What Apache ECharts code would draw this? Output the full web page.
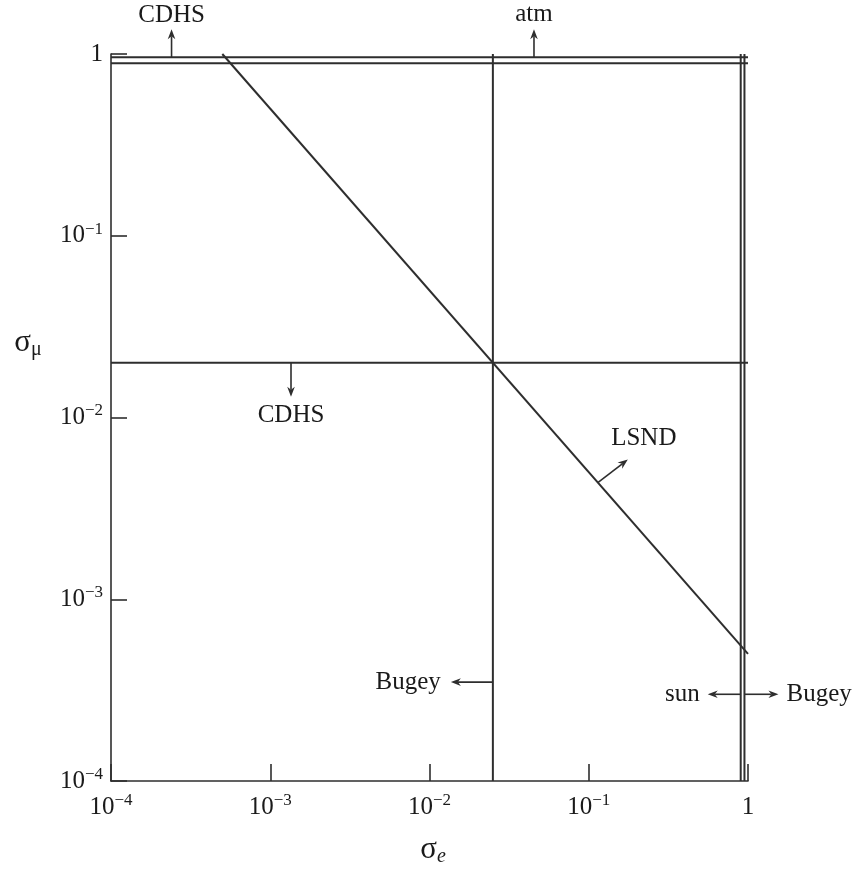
<!DOCTYPE html>
<html>
<head>
<meta charset="utf-8">
<script src="https://cdn.jsdelivr.net/npm/echarts@6/dist/echarts.min.js"></script>
<style>
  html, body { margin: 0; padding: 0; background: #fff; }
  #chart { width: 857px; height: 872px; }
</style>
</head>
<body>
<div id="chart"></div>
<script>
// Axis range (log10 decades) for sigma_e and sigma_mu
const xRange = [1e-4, 1];
const yRange = [1e-4, 1];

// Upper bounds on sigma_mu near unity (CDHS and atmospheric)
const upperMuBounds = [0.96, 0.89];
// CDHS bound on sigma_mu
const cdhsMu = 0.02;
// Bugey bound on sigma_e
const bugeyE = 0.025;
// Solar / Bugey bounds on sigma_e near unity
const nearOneE = [0.90, 0.95];
// LSND line: sigma_e * sigma_mu = const
const lsndE = [5e-4, 1];
const lsndMu = [1, 5e-4];

// Annotation anchors (data coordinates on the bound lines)
const noteCdhsTop = [2.4e-4, 0.96];
const noteAtm = [0.0453, 0.96];
const noteCdhsLow = [1.35e-3, 0.02];
const noteBugeyLeft = [0.025, 3.5e-4];
const noteSun = [0.90, 3.0e-4];
const noteBugeyRight = [0.95, 3.0e-4];
const noteLsndE = 0.114;

const INK = '#2e2e2e';
const TEXT = '#1a1a1a';
const SERIF = '"Liberation Serif", "DejaVu Serif", serif';

function seg(a, b) {
  return {
    type: 'line',
    data: [a, b],
    symbol: 'none',
    silent: true,
    clip: false,
    lineStyle: { color: INK, width: 2 },
  };
}

const series = [];
upperMuBounds.forEach(v => series.push(seg([xRange[0], v], [xRange[1], v])));
series.push(seg([xRange[0], cdhsMu], [xRange[1], cdhsMu]));
series.push(seg([bugeyE, yRange[0]], [bugeyE, yRange[1]]));
nearOneE.forEach(v => series.push(seg([v, yRange[0]], [v, yRange[1]])));
series.push(seg([lsndE[0], lsndMu[0]], [lsndE[1], lsndMu[1]]));

function powLabel(v) {
  const e = Math.round(Math.log10(v));
  if (e === 0) return '{b|1}';
  return '{b|10}{s|\u2212' + (-e) + '}';
}

const labelRich = {
  b: { fontSize: 25, fontFamily: SERIF, color: TEXT, lineHeight: 30 },
  s: { fontSize: 17, fontFamily: SERIF, color: TEXT, lineHeight: 8, verticalAlign: 'top' },
};

const chart = echarts.init(document.getElementById('chart'), null, { renderer: 'canvas' });

chart.setOption({
  animation: false,
  backgroundColor: '#fff',
  grid: { left: 111, right: 109, top: 54, bottom: 91, containLabel: false },
  xAxis: {
    type: 'log',
    logBase: 10,
    min: xRange[0],
    max: xRange[1],
    interval: 1,
    axisLine: { show: true, lineStyle: { color: INK, width: 1.6 } },
    axisTick: { show: true, inside: true, length: 17, lineStyle: { color: INK, width: 1.6 } },
    splitLine: { show: false },
    axisLabel: { margin: 11, formatter: powLabel, rich: labelRich },
  },
  yAxis: {
    type: 'log',
    logBase: 10,
    min: yRange[0],
    max: yRange[1],
    interval: 1,
    axisLine: { show: true, lineStyle: { color: INK, width: 1.6 } },
    axisTick: { show: true, inside: true, length: 16, lineStyle: { color: INK, width: 1.6 } },
    splitLine: { show: false },
    axisLabel: { margin: 8, formatter: powLabel, rich: labelRich },
  },
  series: series,
});

function px(p) { return chart.convertToPixel({ gridIndex: 0 }, p); }

// Line plus barbed arrow head from (x1,y1) to the tip (x2,y2)
function arrow(x1, y1, x2, y2) {
  const a = Math.atan2(y2 - y1, x2 - x1);
  const c = Math.cos(a), s = Math.sin(a);
  const L = 10, W = 3.8;
  const bx = x2 - L * c, by = y2 - L * s;
  const nx = x2 - 0.7 * L * c, ny = y2 - 0.7 * L * s;
  return [
    { type: 'line', silent: true, shape: { x1: x1, y1: y1, x2: nx, y2: ny },
      style: { stroke: INK, lineWidth: 1.6 } },
    { type: 'polygon', silent: true,
      shape: { points: [[x2, y2], [bx - W * s, by + W * c], [nx, ny], [bx + W * s, by - W * c]] },
      style: { fill: INK } },
  ];
}

function label(text, x, y, align) {
  return { type: 'text', silent: true, x: x, y: y,
    style: { text: text, fill: TEXT, font: '25px ' + SERIF, align: align || 'center', verticalAlign: 'middle' } };
}

const g = [];
let p;
p = px(noteCdhsTop);
g.push(...arrow(p[0], p[1], p[0], p[1] - 28), label('CDHS', p[0], p[1] - 42));
p = px(noteAtm);
g.push(...arrow(p[0], p[1], p[0], p[1] - 28), label('atm', p[0], p[1] - 43));
p = px(noteCdhsLow);
g.push(...arrow(p[0], p[1], p[0], p[1] + 34), label('CDHS', p[0], p[1] + 53));
p = px(noteBugeyLeft);
g.push(...arrow(p[0], p[1], p[0] - 42, p[1]), label('Bugey', p[0] - 52, p[1], 'right'));
p = px(noteSun);
g.push(...arrow(p[0], p[1], p[0] - 33, p[1]), label('sun', p[0] - 41, p[1], 'right'));
p = px(noteBugeyRight);
g.push(...arrow(p[0], p[1], p[0] + 34, p[1]), label('Bugey', p[0] + 42, p[1], 'left'));
p = px([noteLsndE, lsndE[0] * lsndMu[0] / noteLsndE]);
g.push(...arrow(p[0], p[1], p[0] + 30, p[1] - 23), label('LSND', p[0] + 46, p[1] - 44));

// Axis titles
g.push({ type: 'text', silent: true, x: 28, y: 343,
  style: { text: '{a|\u03c3}{m|\u03bc}', align: 'center', verticalAlign: 'middle',
    rich: { a: { fontSize: 31, fontFamily: SERIF, fill: TEXT, lineHeight: 34 },
            m: { fontSize: 20, fontFamily: SERIF, fill: TEXT, lineHeight: 18, verticalAlign: 'bottom' } } } });
g.push({ type: 'text', silent: true, x: 433, y: 850,
  style: { text: '{a|\u03c3}{m|e}', align: 'center', verticalAlign: 'middle',
    rich: { a: { fontSize: 31, fontFamily: SERIF, fill: TEXT, lineHeight: 34 },
            m: { fontSize: 20, fontFamily: SERIF, fontStyle: 'italic', fill: TEXT, lineHeight: 18, verticalAlign: 'bottom' } } } });

chart.setOption({ graphic: g });
</script>
</body>
</html>
